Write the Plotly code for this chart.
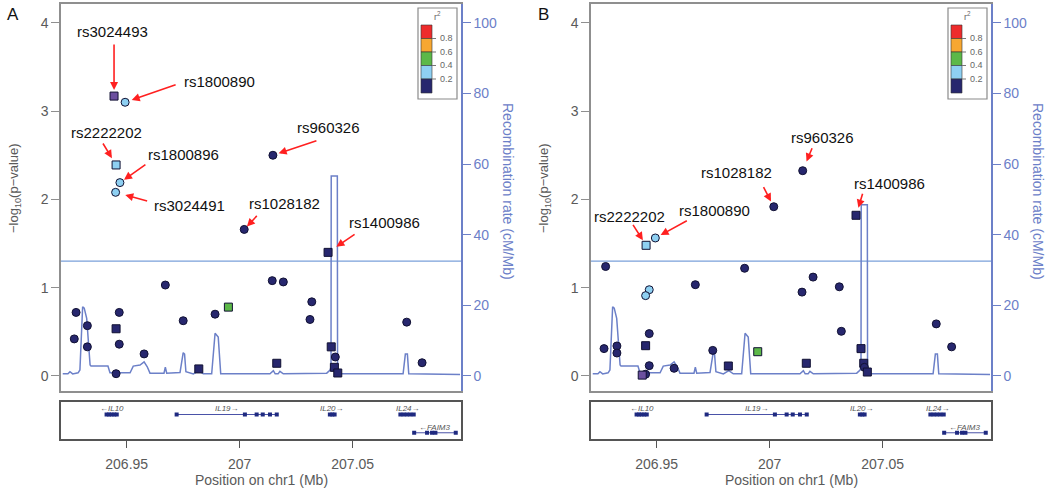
import plotly.graph_objects as go

W, H = 1050, 490

# ---------------- SNP data, panel A ----------------
a_snp_pos = [206.9444, 206.9493, 206.9453, 206.9470, 206.9451, 207.0147, 207.0020, 207.0391,
             206.9276, 206.9268, 206.9326, 206.9326, 206.9467, 206.9453, 206.9467, 206.9453,
             206.9577, 206.9671, 206.9750, 206.9819, 206.9891, 206.9950, 207.0164, 207.0144,
             207.0193, 207.0319, 207.0311, 207.0405, 207.0423, 207.0419, 207.0434, 207.0739,
             207.0807]
a_snp_logp = [3.17, 3.10, 2.39, 2.19, 2.08, 2.50, 1.66, 1.40,
              0.72, 0.42, 0.57, 0.33, 0.72, 0.535, 0.36, 0.026,
              0.25, 1.03, 0.626, 0.08, 0.70, 0.78, 0.144, 1.08,
              1.065, 0.84, 0.64, 0.33, 0.215, 0.098, 0.034, 0.61,
              0.15]
a_snp_ld = ["ref", "0.2", "0.2", "0.2", "0.2", "0", "0", "0",
            "0", "0", "0", "0", "0", "0", "0", "0",
            "0", "0", "0", "0", "0", "0.4", "0", "0",
            "0", "0", "0", "0", "0", "0", "0", "0",
            "0"]
a_snp_shape = ["square", "circle", "square", "circle", "circle", "circle", "circle", "square",
               "circle", "circle", "circle", "circle", "circle", "square", "circle", "circle",
               "circle", "circle", "circle", "square", "circle", "square", "square", "circle",
               "circle", "circle", "circle", "square", "circle", "square", "square", "circle",
               "circle"]
a_label_names = ["rs3024493", "rs1800890", "rs2222202", "rs1800896", "rs3024491",
                 "rs960326", "rs1028182", "rs1400986"]
a_label_index = [0, 1, 2, 3, 4, 5, 6, 7]

# ---------------- SNP data, panel B ----------------
b_snp_pos = [207.0146, 207.0018, 207.0382, 206.9453, 206.9494, 206.9274, 206.9889, 206.9671,
             207.0192, 207.0143, 207.0308, 206.9467, 206.9451, 206.9467, 206.9451, 206.9267,
             206.9324, 206.9324, 206.9467, 206.9451, 206.9436, 206.9577, 206.9748, 206.9817,
             206.9947, 207.0162, 207.0317, 207.0404, 207.0416, 207.0419, 207.0432, 207.0737,
             207.0805]
b_snp_logp = [2.325, 1.917, 1.82, 1.48, 1.563, 1.24, 1.22, 1.034,
              1.12, 0.95, 1.01, 0.977, 0.91, 0.48, 0.343, 0.31,
              0.34, 0.26, 0.117, 0.02, 0.01, 0.087, 0.29, 0.113,
              0.275, 0.144, 0.506, 0.31, 0.144, 0.098, 0.045, 0.59,
              0.33]
b_snp_ld = ["0", "0", "0", "0.2", "0.2", "0", "0", "0",
            "0", "0", "0", "0.2", "0.2", "0", "0", "0",
            "0", "0", "0", "0", "ref", "0", "0", "0",
            "0.4", "0", "0", "0", "0", "0", "0", "0",
            "0"]
b_snp_shape = ["circle", "circle", "square", "square", "circle", "circle", "circle", "circle",
               "circle", "circle", "circle", "circle", "circle", "circle", "square", "circle",
               "circle", "circle", "circle", "circle", "square", "circle", "circle", "square",
               "square", "square", "circle", "square", "square", "circle", "square", "circle",
               "circle"]
b_label_names = ["rs960326", "rs1028182", "rs1400986", "rs2222202", "rs1800890"]
b_label_index = [0, 1, 2, 3, 4]

# ---------------- recombination rate (cM/Mb) ----------------
recomb_pos = [206.9217, 206.9240, 206.9249, 206.9261, 206.9285, 206.9293, 206.9305, 206.9312,
              206.9323, 206.9338, 206.9342, 206.9417, 206.9426, 206.9515, 206.9529, 206.9559,
              206.9577, 206.9591, 206.9603, 206.9665, 206.9671, 206.9677, 206.9736, 206.9750,
              206.9756, 206.9762, 206.9795, 206.9819, 206.9839, 206.9876, 206.9891, 206.9905,
              206.9916, 207.0134, 207.0149, 207.0157, 207.0170, 207.0178, 207.0193, 207.0385,
              207.0400, 207.0404, 207.0405, 207.0432, 207.0433, 207.0444, 207.0723, 207.0733,
              207.0742, 207.0748, 207.0975]
recomb_rate_a = [0.6, 0.6, 1.2, 0.6, 0.9, 1.7, 19.6, 19.2,
                 16.3, 3.1, 2.8, 2.8, 0.9, 0.9, 2.8, 3.1,
                 4.0, 2.6, 0.8, 0.8, 2.5, 0.8, 1.0, 6.6,
                 6.2, 1.2, 0.6, 1.5, 0.6, 0.6, 12.1, 11.0,
                 0.6, 0.6, 1.5, 0.6, 0.6, 1.3, 0.6, 0.8,
                 1.7, 2.5, 56.6, 56.6, 1.0, 0.6, 0.6, 6.2,
                 6.2, 0.6, 0.4]
recomb_rate_b = [0.6, 0.6, 1.2, 0.6, 0.9, 1.7, 19.6, 19.2,
                 16.3, 3.1, 2.8, 2.8, 0.9, 0.9, 2.8, 3.1,
                 4.0, 2.6, 0.8, 0.8, 2.5, 0.8, 1.0, 6.6,
                 6.2, 1.2, 0.6, 1.5, 0.6, 0.6, 12.1, 11.0,
                 0.6, 0.6, 1.5, 0.6, 0.6, 1.3, 0.6, 0.8,
                 1.7, 2.5, 48.5, 48.5, 1.0, 0.6, 0.6, 6.2,
                 6.2, 0.6, 0.4]

# ---------------- genes ----------------
gene_names = ["IL10", "IL19", "IL20", "IL24", "FAIM3"]
gene_start = [206.9408, 206.9721, 207.0397, 207.0709, 207.0768]
gene_end = [206.9458, 207.0166, 207.0422, 207.0776, 207.0958]
gene_strand = ["-", "+", "+", "+", "-"]
gene_row = [1, 1, 1, 1, 2]
exon_pos = [206.9411, 206.9422, 206.9433, 206.9445, 206.9456,
            206.9721, 207.0023, 207.0075, 207.0102, 207.0134, 207.0164,
            207.0399, 207.0410, 207.0420,
            207.0711, 207.0725, 207.0740, 207.0755, 207.0770,
            207.0772, 207.0829, 207.0851, 207.0866, 207.0956]
exon_gene = [0, 0, 0, 0, 0,
             1, 1, 1, 1, 1, 1,
             2, 2, 2,
             3, 3, 3, 3, 3,
             4, 4, 4, 4, 4]

# ---------------- axes / legend ----------------
x_ticks = [206.95, 207.0, 207.05]
x_tick_text = ["206.95", "207", "207.05"]
p_ticks = [0, 1, 2, 3, 4]
rr_ticks = [0, 20, 40, 60, 80, 100]
legend_breaks = ["0.8", "0.6", "0.4", "0.2"]
legend_colors = ["#EE2B2B", "#F7A731", "#5CB848", "#8ED0F2", "#27276E"]
ld_color = {"0": "#27276E", "0.2": "#8ED0F2", "0.4": "#5CB848", "ref": "#6B4F9F"}
sig_threshold = 1.301

# ---------------- styling / layout constants ----------------
FONT = "Liberation Sans, Arial, sans-serif"
GRAY = "#5a5a5a"
FRAME = "#8f8f8f"
BLUE = "#6c80c8"
X_RANGE = [206.92093, 207.09792]
P_RANGE = [-0.170, 4.2129]
RR_RANGE = [-4.25, 105.32]
MAIN_Y = [1 - 391 / H, 1 - 4 / H]
GENE_Y = [1 - 439 / H, 1 - 401.7 / H]
GENE_RANGE = [0, 3]
ROW_Y = {1: 1.97, 2: 0.5}
LABEL_DY = 0.45

# arrow tails (px offset from point), standoff, text offsets (px)
a_arrow = [(0, -53, 6), (52, -18, 7), (-14, -23, 8), (27, -19, 5), (33, 9, 10),
           (45, -15, 6), (14, -15, 4), (28, -19, 10)]
a_text = [(-2, -65), (94, -21), (-10, -32), (64, -28), (74, 13),
          (56, -28), (40, -26), (56, -30)]
b_arrow = [(10, -24, 10), (-11, -21, 6), (7, -23, 8), (-14, -22, 6), (33, -18, 6)]
b_text = [(20, -33), (-37, -34), (33, -32), (-17, -29), (59, -27)]

fig = go.Figure()
layout = dict(width=W, height=H, margin=dict(l=0, r=0, t=0, b=0),
              paper_bgcolor="white", plot_bgcolor="white", showlegend=False,
              font=dict(family=FONT, color=GRAY), shapes=[], annotations=[])

panels = [
    dict(dx=0, letter="A", pos=a_snp_pos, logp=a_snp_logp, ld=a_snp_ld, shape=a_snp_shape,
         names=a_label_names, idx=a_label_index, arrows=a_arrow, texts=a_text,
         rate=recomb_rate_a, ax=["x", "y", "y2", "x2", "y3"]),
    dict(dx=530, letter="B", pos=b_snp_pos, logp=b_snp_logp, ld=b_snp_ld, shape=b_snp_shape,
         names=b_label_names, idx=b_label_index, arrows=b_arrow, texts=b_text,
         rate=recomb_rate_b, ax=["x3", "y4", "y5", "x4", "y6"]),
]


def lname(a):
    return a[0] + "axis" + a[1:]


def paper_text(px, py, text, size, color, xanchor="center", angle=0):
    return dict(x=px / W, y=1 - py / H, xref="paper", yref="paper", text=text,
                showarrow=False, xanchor=xanchor, yanchor="middle", textangle=angle,
                font=dict(size=size, color=color))


for p in panels:
    dx = p["dx"]
    xm, yr, yp, xg, yg = p["ax"]
    xdom = [(61 + dx) / W, (461 + dx) / W]

    # recombination line (base axis)
    fig.add_trace(go.Scatter(x=recomb_pos, y=p["rate"], xaxis=xm, yaxis=yr, mode="lines",
                             line=dict(color=BLUE, width=1.5), hoverinfo="skip"))
    # SNPs (overlay axis, drawn on top)
    fig.add_trace(go.Scatter(x=p["pos"], y=p["logp"], xaxis=xm, yaxis=yp, mode="markers",
                             marker=dict(symbol=p["shape"], size=8,
                                         color=[ld_color[c] for c in p["ld"]],
                                         line=dict(color="#111133", width=1))))
    # genes
    gx, gy = [], []
    for s, e, r in zip(gene_start, gene_end, gene_row):
        gx += [s, e, None]
        gy += [ROW_Y[r], ROW_Y[r], None]
    fig.add_trace(go.Scatter(x=gx, y=gy, xaxis=xg, yaxis=yg, mode="lines",
                             line=dict(color="#4a52a8", width=1), hoverinfo="skip"))
    fig.add_trace(go.Scatter(x=exon_pos, y=[ROW_Y[gene_row[g]] for g in exon_gene],
                             xaxis=xg, yaxis=yg, mode="markers",
                             marker=dict(symbol="square", size=4, color="#1f2a80"),
                             hoverinfo="skip"))
    for name, s, e, st, r in zip(gene_names, gene_start, gene_end, gene_strand, gene_row):
        txt = ("\u2190<i>" + name + "</i>") if st == "-" else ("<i>" + name + "</i>\u2192")
        layout["annotations"].append(dict(x=(s + e) / 2, y=ROW_Y[r] + LABEL_DY,
                                          xref=xg, yref=yg, text=txt, showarrow=False,
                                          xanchor="center", yanchor="middle",
                                          font=dict(size=8, color="#555555")))

    # axes
    layout[lname(xm)] = dict(domain=xdom, range=X_RANGE, anchor=yr, showline=True, mirror=True,
                             linecolor=FRAME, linewidth=1.5, ticks="", showticklabels=False,
                             showgrid=False, zeroline=False)
    layout[lname(yr)] = dict(domain=MAIN_Y, range=RR_RANGE, anchor=xm, side="right",
                             showline=True, linecolor=BLUE, linewidth=1.5, ticks="outside",
                             ticklen=8, tickcolor=BLUE, tickwidth=1.2, tickvals=rr_ticks,
                             tickfont=dict(size=14, color=BLUE), showgrid=False, zeroline=False)
    layout[lname(yp)] = dict(overlaying=yr, range=P_RANGE, anchor=xm, side="left",
                             showline=True, linecolor=FRAME, linewidth=1.5, ticks="outside",
                             ticklen=8, tickcolor=FRAME, tickwidth=1.2, tickvals=p_ticks,
                             tickfont=dict(size=14, color=GRAY), showgrid=False, zeroline=False)
    layout[lname(xg)] = dict(domain=xdom, range=X_RANGE, anchor=yg, showline=True, mirror=True,
                             linecolor="#555555", linewidth=1.5, ticks="outside", ticklen=7,
                             tickcolor="#555555", tickwidth=1.2, tickvals=x_ticks,
                             ticktext=x_tick_text, tickfont=dict(size=14, color=GRAY),
                             ticklabelstandoff=4,
                             showgrid=False, zeroline=False)
    layout[lname(yg)] = dict(domain=GENE_Y, range=GENE_RANGE, anchor=xg, showline=True,
                             mirror=True, linecolor="#555555", linewidth=1.5, ticks="",
                             showticklabels=False, showgrid=False, zeroline=False)

    # significance line
    layout["shapes"].append(dict(type="line", xref=xm + " domain", yref=yp, x0=0, x1=1,
                                 y0=sig_threshold, y1=sig_threshold, layer="below",
                                 line=dict(color="#7aa0da", width=1.3)))

    # labelled SNPs with red arrows
    for name, i, (axp, ayp, so), (tx, ty) in zip(p["names"], p["idx"], p["arrows"], p["texts"]):
        layout["annotations"].append(dict(x=p["pos"][i], y=p["logp"][i], xref=xm, yref=yp,
                                          text="", showarrow=True, ax=axp, ay=ayp,
                                          standoff=so, arrowcolor="#ff2020", arrowwidth=1.6,
                                          arrowhead=2, arrowsize=1))
        layout["annotations"].append(dict(x=p["pos"][i], y=p["logp"][i], xref=xm, yref=yp,
                                          text=name, showarrow=False, xshift=tx, yshift=-ty,
                                          xanchor="center", yanchor="middle",
                                          font=dict(size=15, color="#111111")))

    # r^2 legend
    layout["shapes"].append(dict(type="rect", xref="paper", yref="paper",
                                 x0=(418 + dx) / W, x1=(457 + dx) / W,
                                 y0=1 - 99 / H, y1=1 - 8 / H, fillcolor="white",
                                 line=dict(color="#8a8a8a", width=1.2)))
    bounds = [25, 38.5, 52, 65.5, 79, 93]
    for k, col in enumerate(legend_colors):
        layout["shapes"].append(dict(type="rect", xref="paper", yref="paper",
                                     x0=(421 + dx) / W, x1=(432 + dx) / W,
                                     y0=1 - bounds[k + 1] / H, y1=1 - bounds[k] / H,
                                     fillcolor=col, line=dict(color="#333333", width=0.6)))
    for k, lab in enumerate(legend_breaks):
        yy = bounds[k + 1]
        layout["shapes"].append(dict(type="line", xref="paper", yref="paper",
                                     x0=(432 + dx) / W, x1=(436 + dx) / W,
                                     y0=1 - yy / H, y1=1 - yy / H,
                                     line=dict(color="#777777", width=1)))
        layout["annotations"].append(paper_text(438 + dx, yy, lab, 9, "#666666", "left"))
    layout["annotations"].append(paper_text(437 + dx, 16, "r<sup>2</sup>", 9, "#666666"))

    # axis titles
    layout["annotations"].append(paper_text(15 + dx, 188, "\u2212log<sub>10</sub>(p\u2212value)",
                                            13, GRAY, angle=-90))
    layout["annotations"].append(paper_text(508 + dx, 191, "Recombination rate (cM/Mb)",
                                            14, BLUE, angle=90))
    layout["annotations"].append(paper_text(261 + dx, 480, "Position on chr1 (Mb)", 14, GRAY))
    # panel letter
    layout["annotations"].append(paper_text(13 + dx, 14, p["letter"], 17, "#111111"))

fig.update_layout(**layout)
fig.write_html("out.html", config={"displayModeBar": False},
               post_script="document.body.style.margin='0';"
                           "document.body.style.overflow='hidden';")
